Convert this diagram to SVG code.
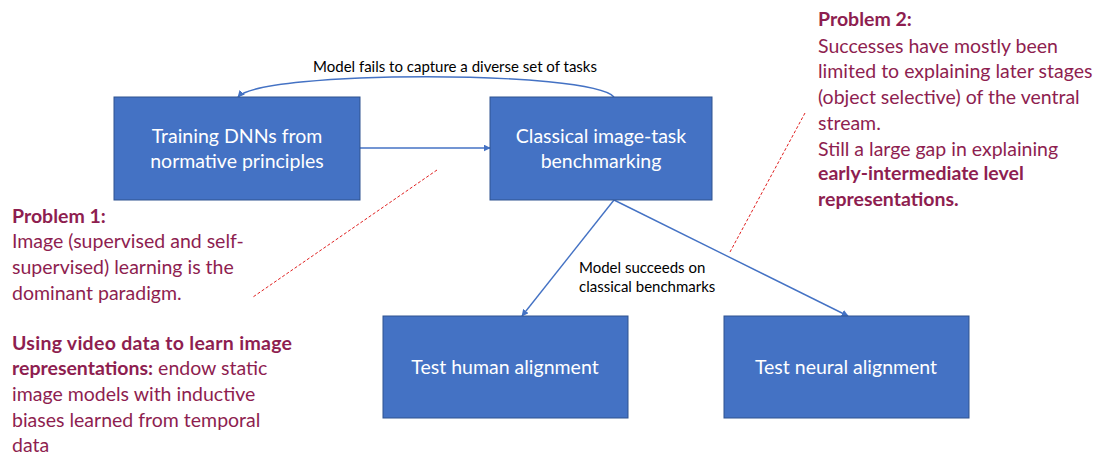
<svg xmlns="http://www.w3.org/2000/svg" width="1101" height="455" viewBox="0 0 1101 455">
  <defs>
    <marker id="arrow" viewBox="0 0 10 10" refX="9" refY="5" markerWidth="7" markerHeight="7" orient="auto" markerUnits="userSpaceOnUse">
      <path d="M0,0 L10,5 L0,10 Z" fill="#4472C4"/>
    </marker>
    <style>
      .box { fill: #4472C4; stroke: #2F528F; stroke-width: 1; }
      .boxtext { font-family: Lato, "Liberation Sans", sans-serif; font-size: 19.5px; fill: #FFFFFF; text-anchor: middle; }
      .conn { fill: none; stroke: #4472C4; stroke-width: 1.4; marker-end: url(#arrow); }
      .label { font-family: Lato, "Liberation Sans", sans-serif; font-size: 15px; fill: #000000; }
      .note { font-family: Lato, "Liberation Sans", sans-serif; font-size: 19.5px; fill: #8E1E50; }
      .b { font-weight: bold; }
      .dash { stroke: #E02020; stroke-width: 1; stroke-dasharray: 3 2; fill: none; }
    </style>
  </defs>

  <!-- connectors -->
  <g id="connectors">
    <path class="conn" d="M360,148 L490,148"/>
    <path class="conn" d="M614,97 C590,70 262,70 238,97"/>
    <path class="conn" d="M614,200 L522,316"/>
    <path class="conn" d="M614,200 L848,316"/>
    <text class="label" x="455" y="72" text-anchor="middle">Model fails to capture a diverse set of tasks</text>
    <text class="label" x="579" y="273">Model succeeds on</text>
    <text class="label" x="579" y="292">classical benchmarks</text>
  </g>

  <!-- dashed pointers from the notes -->
  <g id="pointers">
    <line class="dash" x1="437" y1="170" x2="253" y2="297"/>
    <line class="dash" x1="805" y1="113" x2="730" y2="252"/>
  </g>

  <g id="node-training">
    <rect class="box" x="114" y="97" width="246" height="103"/>
    <text class="boxtext" x="237" y="143">Training DNNs from</text>
    <text class="boxtext" x="237" y="168">normative principles</text>
  </g>

  <g id="node-benchmarking">
    <rect class="box" x="490" y="97" width="222" height="103"/>
    <text class="boxtext" x="601" y="143">Classical image-task</text>
    <text class="boxtext" x="601" y="168">benchmarking</text>
  </g>

  <g id="node-human">
    <rect class="box" x="383" y="316" width="245" height="102"/>
    <text class="boxtext" x="505" y="374">Test human alignment</text>
  </g>

  <g id="node-neural">
    <rect class="box" x="724" y="316" width="245" height="102"/>
    <text class="boxtext" x="846" y="374">Test neural alignment</text>
  </g>

  <g id="note-problem1">
    <text class="note b" x="12" y="223">Problem 1:</text>
    <text class="note" x="12" y="248">Image (supervised and self-</text>
    <text class="note" x="12" y="274">supervised) learning is the</text>
    <text class="note" x="12" y="300">dominant paradigm.</text>
    <text class="note b" x="12" y="350" textLength="280" lengthAdjust="spacing">Using video data to learn image</text>
    <text class="note" x="12" y="375"><tspan class="b">representations:</tspan> endow static</text>
    <text class="note" x="12" y="401">image models with inductive</text>
    <text class="note" x="12" y="427">biases learned from temporal</text>
    <text class="note" x="12" y="452">data</text>
  </g>

  <g id="note-problem2">
    <text class="note b" x="818" y="26">Problem 2:</text>
    <text class="note" x="818" y="53">Successes have mostly been</text>
    <text class="note" x="818" y="78">limited to explaining later stages</text>
    <text class="note" x="818" y="104">(object selective) of the ventral</text>
    <text class="note" x="818" y="130">stream.</text>
    <text class="note" x="818" y="156">Still a large gap in explaining</text>
    <text class="note b" x="818" y="180">early-intermediate level</text>
    <text class="note b" x="818" y="206">representations.</text>
  </g>
</svg>
